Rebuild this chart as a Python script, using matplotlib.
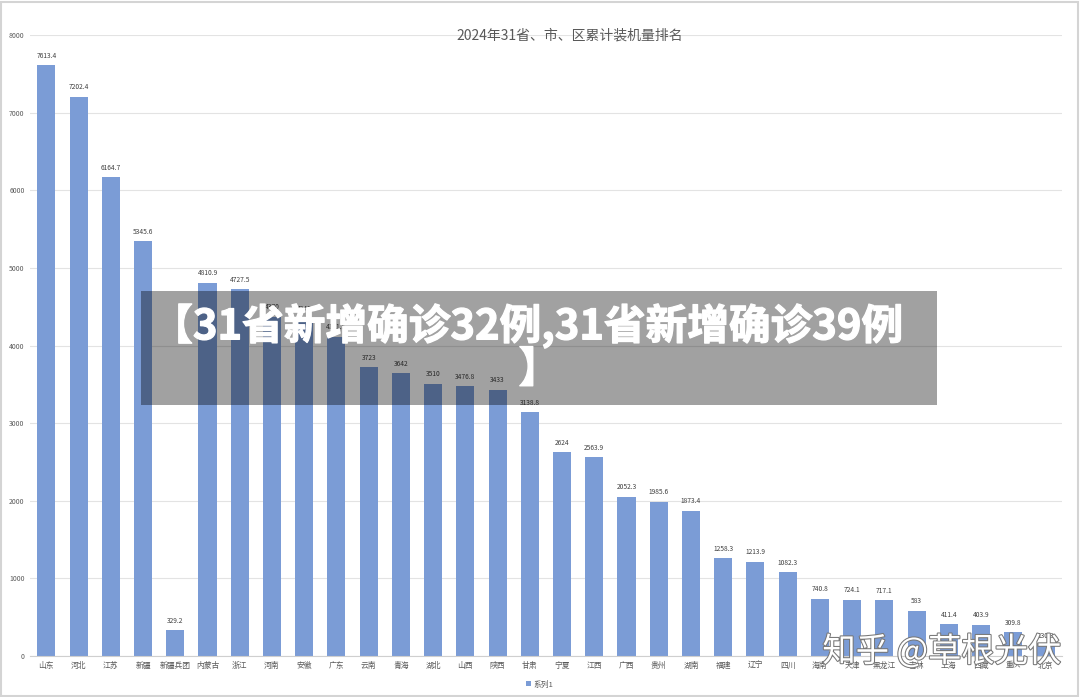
import matplotlib
matplotlib.use("Agg")
import matplotlib.pyplot as plt
import matplotlib.patheffects as pe
from matplotlib.patches import Rectangle

plt.rcParams['font.family'] = ['Noto Sans CJK SC', 'DejaVu Sans']

provinces = ["山东", "河北", "江苏", "新疆", "新疆兵团", "内蒙古", "浙江", "河南", "安徽", "广东",
             "云南", "青海", "湖北", "山西", "陕西", "甘肃", "宁夏", "江西", "广西", "贵州",
             "湖南", "福建", "辽宁", "四川", "海南", "天津", "黑龙江", "吉林", "上海", "西藏",
             "重庆", "北京"]
capacity = [7613.4, 7202.4, 6164.7, 5345.6, 329.2, 4810.9, 4727.5, 4370.0, 4345.0, 4111.5,
            3723, 3642, 3510, 3476.8, 3433, 3138.8, 2624, 2563.9, 2052.3, 1985.6,
            1873.4, 1258.3, 1213.9, 1082.3, 740.8, 724.1, 717.1, 583, 411.4, 403.9,
            309.8, 130.3]
yticks = [0, 1000, 2000, 3000, 4000, 5000, 6000, 7000, 8000]

title = "2024年31省、市、区累计装机量排名"
series_name = "系列1"
headline_1 = "【31省新增确诊32例,31省新增确诊39例"
headline_2 = "】"
watermark = "知乎 @草根光伏"

bar_color = "#7b9cd6"

fig = plt.figure(figsize=(10.8, 6.97), dpi=100)
ax = fig.add_axes([0.028, 0.0588, 0.955, 0.891])

x = list(range(len(provinces)))
bars = ax.bar(x, capacity, width=0.56, color=bar_color, label=series_name, zorder=2)
for xi, v in zip(x, capacity):
    ax.text(xi, v + 70, f"{v:g}", ha="center", va="bottom", fontsize=4.8, color="#404040")

ax.set_xlim(-0.5, len(provinces) - 0.5)
ax.set_ylim(0, 8000)
ax.set_yticks(yticks)
ax.set_yticklabels([str(t) for t in yticks], fontsize=5, color="#595959")
ax.set_xticks(x)
ax.set_xticklabels(provinces, fontsize=5.6, color="#595959")
ax.tick_params(axis="both", length=0, pad=4)
ax.grid(axis="y", color="#e3e3e3", linewidth=0.8, zorder=0)
for side in ["top", "right", "left"]:
    ax.spines[side].set_visible(False)
ax.spines["bottom"].set_color("#cfcfcf")
ax.spines["bottom"].set_linewidth(0.8)

fig.text(0.528, 0.949, title, ha="center", va="center", fontsize=10, color="#595959")

fig.legend(handles=[bars], labels=[series_name], loc="center", bbox_to_anchor=(0.5, 0.018),
           frameon=False, fontsize=5.6, handlelength=0.6, handleheight=0.6,
           handletextpad=0.4, labelcolor="#595959")

# outer frame
fig.patches.append(Rectangle((0.001, 0.002), 0.997, 0.995, transform=fig.transFigure,
                             fill=False, edgecolor="#d4d4d4", linewidth=1.5))

# dark overlay banner with headline
fig.patches.append(Rectangle((141 / 1080, 1 - 405 / 697), (937 - 141) / 1080, (405 - 291) / 697,
                             transform=fig.transFigure, facecolor="black", alpha=0.37,
                             edgecolor="none", zorder=5))
thick = [pe.withStroke(linewidth=0.9, foreground="white")]
fig.text(0.4875, 1 - 326 / 697, headline_1, ha="center", va="center", fontsize=30,
         fontweight="bold", color="white", zorder=6, path_effects=thick)
fig.text(0.4875 + 0.012, 1 - 370 / 697, headline_2, ha="center", va="center", fontsize=30,
         fontweight="bold", color="white", zorder=6, path_effects=thick)

fig.text(942 / 1080, 1 - 652 / 697, watermark, ha="center", va="center", fontsize=24,
         color="white", zorder=6,
         path_effects=[pe.withStroke(linewidth=1.5, foreground="#777777")])

fig.savefig("out.png", dpi=100)
